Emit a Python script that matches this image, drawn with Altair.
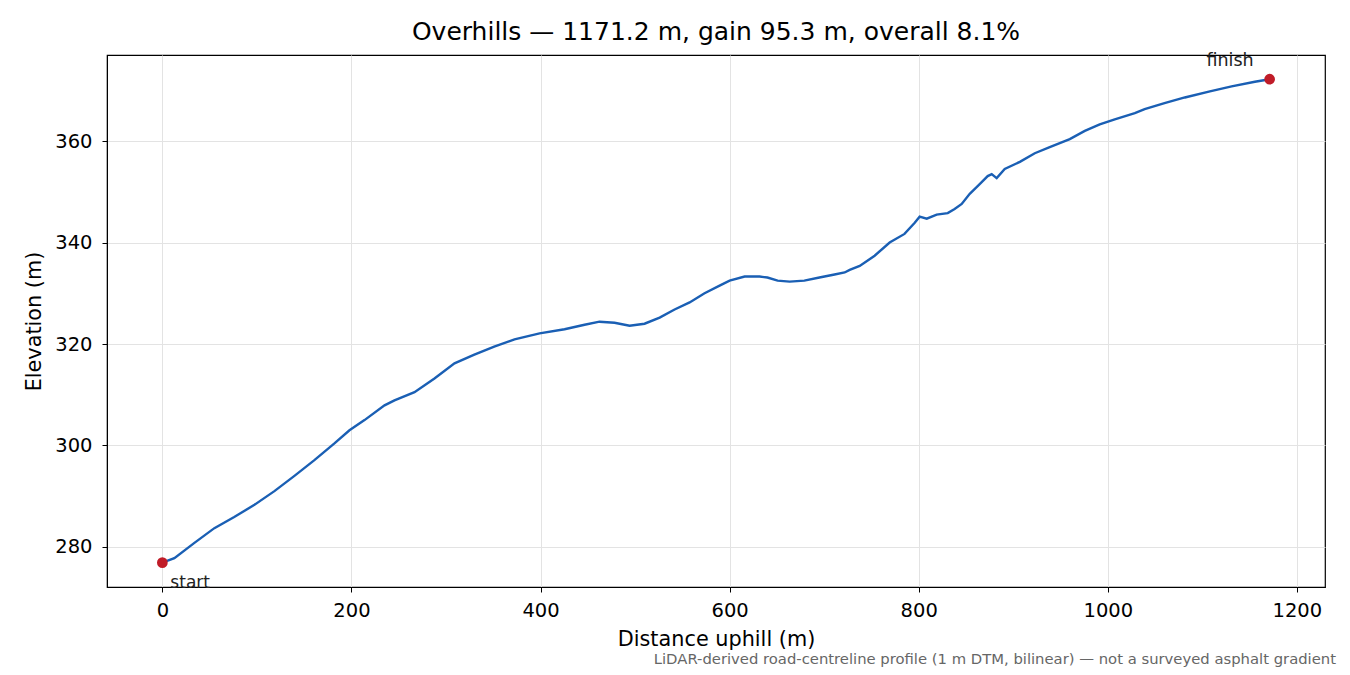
import pandas as pd
import altair as alt

# Elevation profile (distance m, elevation m)
dist = [0, 12.7, 33.9, 55, 76, 97.4, 118.5, 139.7, 160.8, 182, 197.9, 213.8, 235, 245.5,
        266.7, 287.8, 309, 330, 351, 372.5, 399, 425.4, 446.6, 462.4, 478.3, 494.2, 510,
        526, 541.8, 557.7, 573.5, 589.4, 600, 615.9, 631.7, 640, 650.8, 663.5, 679, 695,
        711, 721.7, 727, 737.6, 753.4, 769.3, 785, 795.8, 801, 808.5, 819, 830.7, 838,
        845.5, 854, 864.5, 873, 877.2, 882.5, 891, 907, 922.8, 938.6, 959.8, 975.7, 991.5,
        1007.4, 1028.6, 1039, 1060, 1081.5, 1108, 1131, 1155.6, 1171.2]
elev = [276.9, 277.8, 280.8, 283.7, 285.9, 288.3, 291.0, 294.0, 297.1, 300.4, 303.0, 305.0,
        307.9, 308.9, 310.5, 313.2, 316.2, 317.9, 319.5, 320.9, 322.1, 322.9, 323.8, 324.4,
        324.2, 323.6, 324.0, 325.2, 326.8, 328.2, 330.0, 331.5, 332.5, 333.3, 333.3, 333.1,
        332.5, 332.3, 332.5, 333.1, 333.7, 334.1, 334.6, 335.4, 337.4, 340.0, 341.7, 343.9,
        345.1, 344.7, 345.5, 345.8, 346.6, 347.6, 349.6, 351.5, 353.1, 353.5, 352.7, 354.5,
        355.9, 357.6, 358.8, 360.4, 362.0, 363.3, 364.3, 365.5, 366.3, 367.5, 368.6, 369.8,
        370.8, 371.7, 372.2]

end_labels = ["start", "finish"]
end_dist = [0, 1171.2]
end_elev = [276.9, 372.2]

title_text = "Overhills \u2014 1171.2 m, gain 95.3 m, overall 8.1%"
footnote = ("LiDAR-derived road-centreline profile (1 m DTM, bilinear) "
            "\u2014 not a surveyed asphalt gradient")

profile = pd.DataFrame({"dist": dist, "elev": elev})
ends = pd.DataFrame({"label": end_labels, "dist": end_dist, "elev": end_elev})

FONT = "DejaVu Sans"
x_scale = alt.Scale(domain=[-58.56, 1229.76], nice=False, zero=False)
y_scale = alt.Scale(domain=[272.1, 376.97], nice=False, zero=False)

x_enc = alt.X("dist:Q", scale=x_scale, title="Distance uphill (m)",
              axis=alt.Axis(values=[0, 200, 400, 600, 800, 1000, 1200], format="d"))
y_enc = alt.Y("elev:Q", scale=y_scale, title="Elevation (m)",
              axis=alt.Axis(values=[280, 300, 320, 340, 360], format="d"))

line = alt.Chart(profile).mark_line(color="#1a5fb4", strokeWidth=2.4).encode(
    x=x_enc, y=y_enc
)

dots = alt.Chart(ends).mark_point(filled=True, color="#c01c28", size=115, opacity=1).encode(
    x="dist:Q", y="elev:Q"
)

start_lbl = alt.Chart(ends[ends.label == "start"]).mark_text(
    align="left", baseline="middle", dx=8, dy=20, fontSize=17, font=FONT, color="#222"
).encode(x="dist:Q", y="elev:Q", text="label:N")

finish_lbl = alt.Chart(ends[ends.label == "finish"]).mark_text(
    align="right", baseline="middle", dx=-16, dy=-18, fontSize=17.5, font=FONT, color="#222"
).encode(x="dist:Q", y="elev:Q", text="label:N")

note = alt.Chart(pd.DataFrame({"t": [footnote]})).mark_text(
    align="right", baseline="middle", fontSize=14.8, font=FONT, color="#666"
).encode(text="t:N", x=alt.value(1229), y=alt.value(605))

chart = alt.layer(line, dots, start_lbl, finish_lbl, note).properties(
    width=1218,
    height=532,
    title=alt.TitleParams(title_text, fontSize=25, font=FONT, fontWeight="normal",
                          color="black", anchor="middle", offset=7),
    autosize=alt.AutoSizeParams(type="none"),
    padding={"left": 99, "top": 47, "right": 17, "bottom": 85},
).configure_view(
    stroke="black", strokeWidth=1.2
).configure_axis(
    labelFont=FONT, titleFont=FONT, labelFontSize=19.5, titleFontSize=20.8,
    titleFontWeight="normal", labelColor="black", titleColor="black",
    domainColor="black", tickColor="black", tickSize=5,
    gridColor="#e3e3e3", gridWidth=1
).configure_axisX(labelPadding=9, titlePadding=10).configure_axisY(labelPadding=10, titlePadding=10)

chart.save("out.html", embed_options={"renderer": "svg", "actions": False})
